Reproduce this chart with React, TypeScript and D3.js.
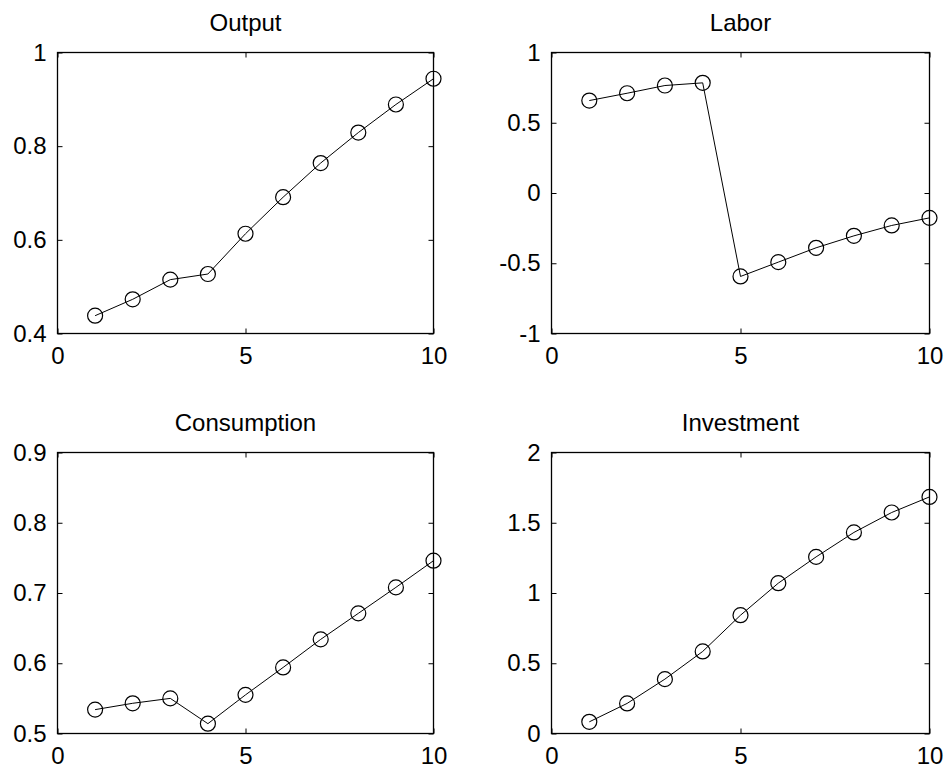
import React, { useEffect, useRef } from 'react';
import * as d3 from 'd3';

const periods = [1, 2, 3, 4, 5, 6, 7, 8, 9, 10];
const xTicks = [0, 5, 10];

const titles = ['Output', 'Labor', 'Consumption', 'Investment'];

const outputValues = [0.438, 0.473, 0.515, 0.527, 0.613, 0.691, 0.764, 0.829, 0.889, 0.944];
const laborValues = [0.658, 0.71, 0.765, 0.784, -0.594, -0.492, -0.39, -0.305, -0.231, -0.177];
const consumptionValues = [0.534, 0.543, 0.55, 0.514, 0.555, 0.594, 0.634, 0.671, 0.708, 0.746];
const investmentValues = [0.083, 0.214, 0.387, 0.584, 0.842, 1.07, 1.257, 1.431, 1.573, 1.684];

const outputTicks = [0.4, 0.6, 0.8, 1];
const laborTicks = [-1, -0.5, 0, 0.5, 1];
const consumptionTicks = [0.5, 0.6, 0.7, 0.8, 0.9];
const investmentTicks = [0, 0.5, 1, 1.5, 2];

const seriesList = [outputValues, laborValues, consumptionValues, investmentValues];
const tickList = [outputTicks, laborTicks, consumptionTicks, investmentTicks];

const W = 948;
const H = 773;
const cols = [[57.5, 433.5], [551.5, 929.5]];
const rows = [[52.5, 333.5], [452.5, 733.5]];
const font = 'Arial, "Liberation Sans", sans-serif';

const App = () => {
  const ref = useRef<SVGSVGElement>(null);

  useEffect(() => {
    const svg = d3.select(ref.current);
    svg.selectAll('*').remove();

    seriesList.forEach((values, i) => {
      const [left, right] = cols[i % 2];
      const [top, bottom] = rows[Math.floor(i / 2)];
      const yTicks = tickList[i];

      const x = d3.scaleLinear().domain([0, 10]).range([left, right]);
      const y = d3.scaleLinear().domain([yTicks[0], yTicks[yTicks.length - 1]]).range([bottom, top]);

      const g = svg.append('g');
      const fmt = (d: any) => d3.format('~g')(d).replace('−', '-');

      const styleAxis = (sel: any) => {
        sel.select('.domain').remove();
        sel.selectAll('line').attr('stroke', '#000');
        sel.selectAll('text').attr('font-size', 24).attr('font-family', font).attr('fill', '#000');
      };

      g.append('g')
        .attr('transform', `translate(0,${bottom})`)
        .call(d3.axisBottom(x).tickValues(xTicks).tickSizeInner(-5).tickSizeOuter(0).tickPadding(13).tickFormat(fmt))
        .call(styleAxis);
      g.append('g')
        .attr('transform', `translate(0,${top})`)
        .call(d3.axisTop(x).tickValues(xTicks).tickSizeInner(-5).tickSizeOuter(0).tickFormat(() => ''))
        .call(styleAxis);
      g.append('g')
        .attr('transform', `translate(${left},0)`)
        .call(d3.axisLeft(y).tickValues(yTicks).tickSizeInner(-5).tickSizeOuter(0).tickPadding(11).tickFormat(fmt))
        .call(styleAxis);
      g.append('g')
        .attr('transform', `translate(${right},0)`)
        .call(d3.axisRight(y).tickValues(yTicks).tickSizeInner(-5).tickSizeOuter(0).tickFormat(() => ''))
        .call(styleAxis);

      g.append('rect')
        .attr('x', left)
        .attr('y', top)
        .attr('width', right - left)
        .attr('height', bottom - top)
        .attr('fill', 'none')
        .attr('stroke', '#000')
        .attr('stroke-width', 1.3);

      const line = d3.line<number>()
        .x((d, j) => x(periods[j]))
        .y((d) => y(d));

      g.append('path')
        .datum(values)
        .attr('d', line)
        .attr('fill', 'none')
        .attr('stroke', '#000')
        .attr('stroke-width', 1);

      g.selectAll('circle')
        .data(values)
        .enter()
        .append('circle')
        .attr('cx', (d, j) => x(periods[j]))
        .attr('cy', (d) => y(d))
        .attr('r', 7.5)
        .attr('fill', 'none')
        .attr('stroke', '#000')
        .attr('stroke-width', 1.2);

      g.append('text')
        .attr('x', (left + right) / 2)
        .attr('y', top - 22)
        .attr('text-anchor', 'middle')
        .attr('font-size', 24)
        .attr('font-family', font)
        .attr('fill', '#000')
        .text(titles[i]);
    });
  }, []);

  return (
    <svg
      ref={ref}
      width={W}
      height={H}
      style={{ position: 'absolute', left: 0, top: 0, background: '#fff' }}
    ></svg>
  );
};

export default App;
